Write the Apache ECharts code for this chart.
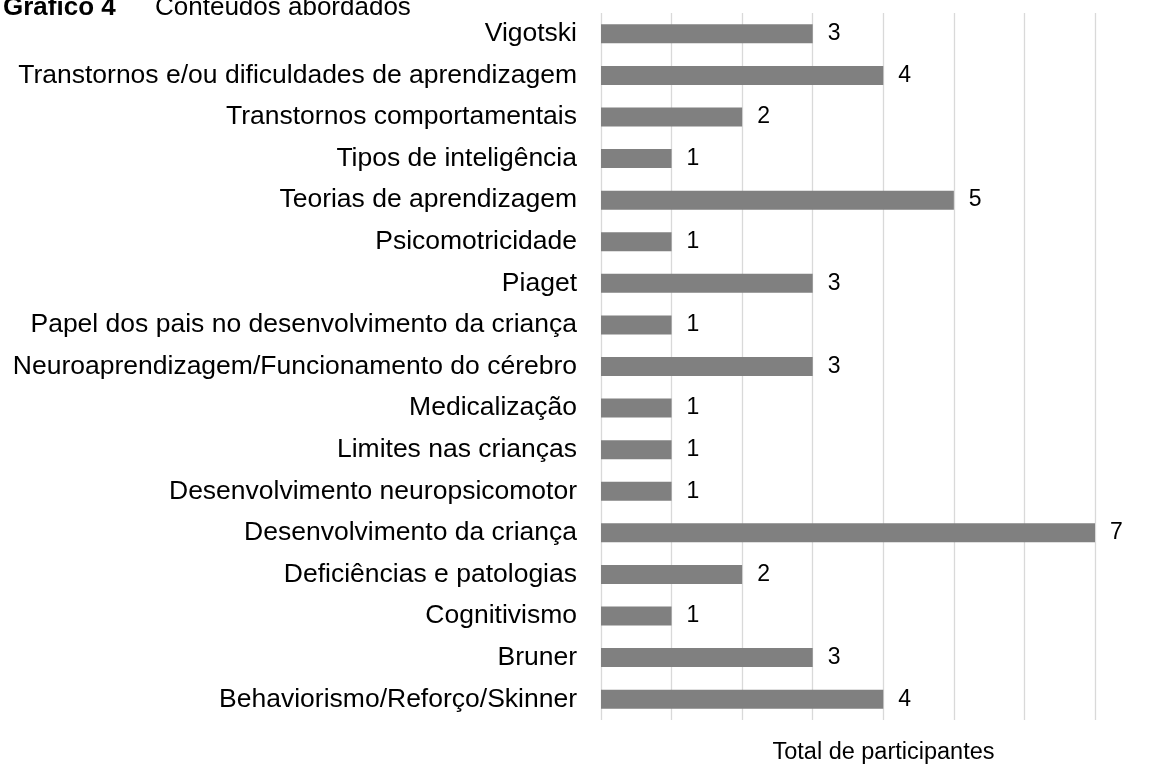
<!DOCTYPE html>
<html><head><meta charset="utf-8">
<script src="https://cdn.jsdelivr.net/npm/echarts@6/dist/echarts.min.js"></script>
<style>html,body{margin:0;padding:0;background:#fff}#c{width:1154px;height:765px}</style>
</head><body><div id="c"></div>
<script>
const categories = [
  "Vigotski",
  "Transtornos e/ou dificuldades de aprendizagem",
  "Transtornos comportamentais",
  "Tipos de inteligência",
  "Teorias de aprendizagem",
  "Psicomotricidade",
  "Piaget",
  "Papel dos pais no desenvolvimento da criança",
  "Neuroaprendizagem/Funcionamento do cérebro",
  "Medicalização",
  "Limites nas crianças",
  "Desenvolvimento neuropsicomotor",
  "Desenvolvimento da criança",
  "Deficiências e patologias",
  "Cognitivismo",
  "Bruner",
  "Behaviorismo/Reforço/Skinner"
];
const values = [3,4,2,1,5,1,3,1,3,1,1,1,7,2,1,3,4];
const titleBold = "Gráfico 4";
const titleRest = "Conteúdos abordados";
const axisName = "Total de participantes";

const chart = echarts.init(document.getElementById('c'));
const font = "Arial, 'Liberation Sans', sans-serif";
chart.setOption({
  animation:false,
  textStyle:{fontFamily:font},
  graphic:[
    {type:'text', x:3, y:21,
     style:{text:titleBold,fontWeight:'bold',fontSize:26,fontFamily:font,fill:'#000',verticalAlign:'bottom'}},
    {type:'text', x:155, y:21,
     style:{text:titleRest,fontSize:26,fontFamily:font,fill:'#000',verticalAlign:'bottom'}}
  ],
  grid:{left:601,right:59,top:13,bottom:45,containLabel:false,outerBoundsMode:'none'},
  xAxis:{type:'value',min:0,max:7,interval:1,
    axisLabel:{show:false},axisTick:{show:false},axisLine:{show:false},
    splitLine:{show:true,lineStyle:{color:'#d9d9d9',width:1.3}},
    name:axisName,nameLocation:'middle',nameGap:21,
    nameTextStyle:{fontSize:23.5,color:'#000',fontFamily:font,padding:[0,0,0,71]}},
  yAxis:{type:'category',data:categories,inverse:true,
    axisLine:{show:false},axisTick:{show:false},
    axisLabel:{fontSize:26.5,color:'#000',margin:24,fontFamily:font}},
  series:[{type:'bar',data:values,barWidth:19,
    itemStyle:{color:'#808080'},
    label:{show:true,position:'right',distance:15,fontSize:23,color:'#000',fontFamily:font}}]
});
</script></body></html>
